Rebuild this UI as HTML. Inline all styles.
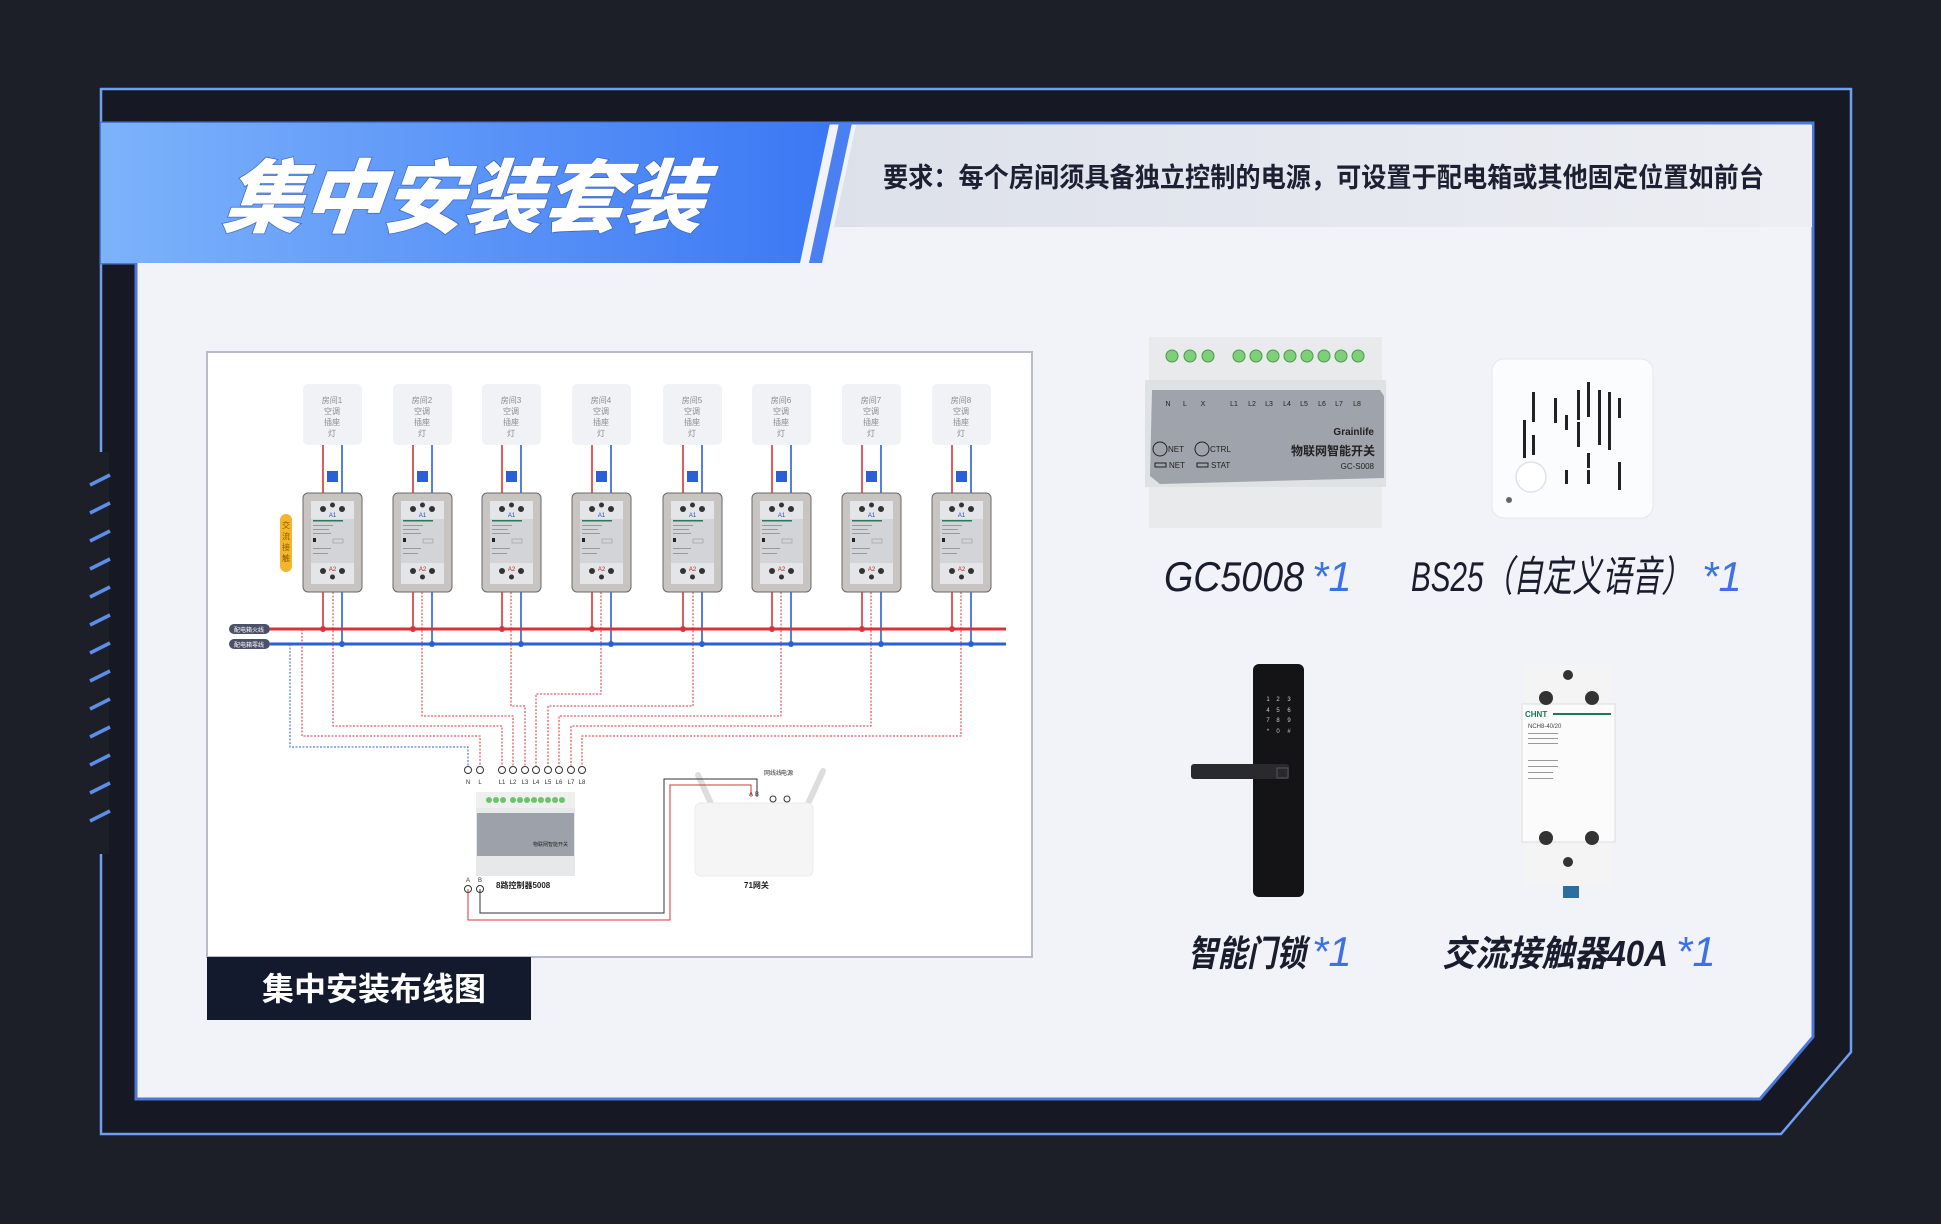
<!DOCTYPE html>
<html><head><meta charset="utf-8"><style>
html,body{margin:0;padding:0;background:#1c1e28;}
svg{display:block}
.cj{font-family:"Liberation Sans","Noto Sans CJK SC",sans-serif;}
</style></head><body>
<svg width="1941" height="1224" viewBox="0 0 1941 1224" xmlns="http://www.w3.org/2000/svg" class="cj">
<defs>
<linearGradient id="hb" x1="0" x2="1" y1="0" y2="0"><stop offset="0" stop-color="#7db3fb"/><stop offset="1" stop-color="#3b78f4"/></linearGradient>
<linearGradient id="gb" x1="0" x2="1" y1="0" y2="0"><stop offset="0" stop-color="#dde1ea"/><stop offset="1" stop-color="#eceef3"/></linearGradient>
<g id="ct">
<rect x="0" y="0" width="59" height="99" rx="5" fill="#c8c4c1" stroke="#6a6a6a" stroke-width="1"/>
<rect x="8" y="8" width="43" height="83" fill="#e4e5e8"/>
<rect x="8" y="26" width="43" height="44" fill="#d2d4d8"/>
<circle cx="20" cy="16" r="3" fill="#333"/><circle cx="39" cy="16" r="3" fill="#333"/><circle cx="29.5" cy="12" r="2.5" fill="#333"/>
<circle cx="20" cy="78" r="3" fill="#333"/><circle cx="39" cy="78" r="3" fill="#333"/><circle cx="29.5" cy="84" r="2.5" fill="#333"/>
<rect x="10" y="27" width="30" height="1.5" fill="#2a7a5a"/>
<rect x="10" y="32" width="20" height="1" fill="#999"/><rect x="10" y="36" width="16" height="1" fill="#999"/><rect x="10" y="40" width="18" height="1" fill="#999"/>
<rect x="10" y="45" width="3" height="4" fill="#222"/><rect x="30" y="46" width="10" height="4" fill="none" stroke="#999" stroke-width="0.6"/>
<rect x="10" y="55" width="18" height="1" fill="#999"/><rect x="10" y="60" width="15" height="1" fill="#999"/>
<text x="29.5" y="24" font-size="6" fill="#2050c0" text-anchor="middle">A1</text>
<text x="29.5" y="78" font-size="6" fill="#c02020" text-anchor="middle">A2</text>
</g>
<g id="rb">
<rect x="0" y="0" width="59" height="61" rx="5" fill="#f1f2f6"/>
</g>
</defs>

<polygon points="101,89 1851,89 1851,1052 1781,1134 101,1134" fill="#161824" stroke="#6fa0ef" stroke-width="2.5"/>
<rect x="95" y="452" width="14" height="402" fill="#1c1e28"/>
<g stroke="#5b8fe8" stroke-width="3.5">
<line x1="90" y1="485" x2="110" y2="475"/><line x1="90" y1="513" x2="110" y2="503"/><line x1="90" y1="541" x2="110" y2="531"/><line x1="90" y1="569" x2="110" y2="559"/><line x1="90" y1="597" x2="110" y2="587"/><line x1="90" y1="625" x2="110" y2="615"/><line x1="90" y1="653" x2="110" y2="643"/><line x1="90" y1="681" x2="110" y2="671"/><line x1="90" y1="709" x2="110" y2="699"/><line x1="90" y1="737" x2="110" y2="727"/><line x1="90" y1="765" x2="110" y2="755"/><line x1="90" y1="793" x2="110" y2="783"/><line x1="90" y1="821" x2="110" y2="811"/>
</g>
<polygon points="101,123 1813,123 1813,1037 1760,1099 136,1099 136,263 101,263" fill="#f1f3f8" stroke="#4a78d8" stroke-width="3"/>
<polygon points="856,125 1812,125 1812,227 834,227" fill="url(#gb)"/>
<polygon points="101,123 830,123 800,263 101,263" fill="url(#hb)"/>
<polygon points="839,123 852,123 822,263 809,263" fill="#4a80f2"/>
<text x="223" y="226" font-size="80" font-weight="900" fill="#fff" font-style="italic" textLength="480" lengthAdjust="spacingAndGlyphs" stroke="#3a63c4" stroke-width="1.5" paint-order="stroke" transform="skewX(-6) translate(22,0)">集中安装套装</text>
<text x="883" y="187" font-size="27" font-weight="700" fill="#1d2033" textLength="881" lengthAdjust="spacingAndGlyphs">要求：每个房间须具备独立控制的电源，可设置于配电箱或其他固定位置如前台</text>

<rect x="207" y="352" width="825" height="605" fill="#fff" stroke="#b8bcc6" stroke-width="2"/>
<rect x="207" y="957" width="324" height="63" fill="#141a2e"/>
<text x="262" y="1000" font-size="32" font-weight="700" fill="#fff">集中安装布线图</text>

<g font-size="8" fill="#8a8a90" text-anchor="middle">
<use href="#rb" x="303" y="384"/><use href="#rb" x="393" y="384"/><use href="#rb" x="482" y="384"/><use href="#rb" x="572" y="384"/><use href="#rb" x="663" y="384"/><use href="#rb" x="752" y="384"/><use href="#rb" x="842" y="384"/><use href="#rb" x="932" y="384"/>
<text x="332" y="403">房间1</text><text x="332" y="414">空调</text><text x="332" y="425">插座</text><text x="332" y="436">灯</text>
<text x="422" y="403">房间2</text><text x="422" y="414">空调</text><text x="422" y="425">插座</text><text x="422" y="436">灯</text>
<text x="511" y="403">房间3</text><text x="511" y="414">空调</text><text x="511" y="425">插座</text><text x="511" y="436">灯</text>
<text x="601" y="403">房间4</text><text x="601" y="414">空调</text><text x="601" y="425">插座</text><text x="601" y="436">灯</text>
<text x="692" y="403">房间5</text><text x="692" y="414">空调</text><text x="692" y="425">插座</text><text x="692" y="436">灯</text>
<text x="781" y="403">房间6</text><text x="781" y="414">空调</text><text x="781" y="425">插座</text><text x="781" y="436">灯</text>
<text x="871" y="403">房间7</text><text x="871" y="414">空调</text><text x="871" y="425">插座</text><text x="871" y="436">灯</text>
<text x="961" y="403">房间8</text><text x="961" y="414">空调</text><text x="961" y="425">插座</text><text x="961" y="436">灯</text>
</g>

<g stroke="#d8333a" stroke-width="1.6">
<line x1="323" y1="445" x2="323" y2="629"/><line x1="413" y1="445" x2="413" y2="629"/><line x1="502" y1="445" x2="502" y2="629"/><line x1="592" y1="445" x2="592" y2="629"/><line x1="683" y1="445" x2="683" y2="629"/><line x1="772" y1="445" x2="772" y2="629"/><line x1="862" y1="445" x2="862" y2="629"/><line x1="952" y1="445" x2="952" y2="629"/>
</g>
<g stroke="#2a5fd8" stroke-width="1.6">
<line x1="342" y1="445" x2="342" y2="644"/><line x1="432" y1="445" x2="432" y2="644"/><line x1="521" y1="445" x2="521" y2="644"/><line x1="611" y1="445" x2="611" y2="644"/><line x1="702" y1="445" x2="702" y2="644"/><line x1="791" y1="445" x2="791" y2="644"/><line x1="881" y1="445" x2="881" y2="644"/><line x1="971" y1="445" x2="971" y2="644"/>
</g>
<g fill="#2a5fd8">
<rect x="327" y="471" width="11" height="11"/><rect x="417" y="471" width="11" height="11"/><rect x="506" y="471" width="11" height="11"/><rect x="596" y="471" width="11" height="11"/><rect x="687" y="471" width="11" height="11"/><rect x="776" y="471" width="11" height="11"/><rect x="866" y="471" width="11" height="11"/><rect x="956" y="471" width="11" height="11"/>
</g>
<use href="#ct" x="303" y="493"/><use href="#ct" x="393" y="493"/><use href="#ct" x="482" y="493"/><use href="#ct" x="572" y="493"/><use href="#ct" x="663" y="493"/><use href="#ct" x="752" y="493"/><use href="#ct" x="842" y="493"/><use href="#ct" x="932" y="493"/>
<rect x="280" y="514" width="12" height="58" rx="6" fill="#f4b52a"/>
<text x="286" y="528" font-size="8" fill="#8a5a00" text-anchor="middle">交</text>
<text x="286" y="539" font-size="8" fill="#8a5a00" text-anchor="middle">流</text>
<text x="286" y="550" font-size="8" fill="#8a5a00" text-anchor="middle">接</text>
<text x="286" y="561" font-size="8" fill="#8a5a00" text-anchor="middle">触</text>

<line x1="270" y1="629" x2="1006" y2="629" stroke="#d8333a" stroke-width="3"/>
<line x1="270" y1="644" x2="1006" y2="644" stroke="#2a5fd8" stroke-width="3"/>
<rect x="229" y="624" width="41" height="10" rx="5" fill="#4c5068"/>
<rect x="229" y="639" width="41" height="10" rx="5" fill="#4c5068"/>
<text x="249" y="632" font-size="6" fill="#fff" text-anchor="middle">配电箱火线</text>
<text x="249" y="647" font-size="6" fill="#fff" text-anchor="middle">配电箱零线</text>
<g fill="#d8333a"><circle cx="323" cy="629" r="3"/><circle cx="413" cy="629" r="3"/><circle cx="502" cy="629" r="3"/><circle cx="592" cy="629" r="3"/><circle cx="683" cy="629" r="3"/><circle cx="772" cy="629" r="3"/><circle cx="862" cy="629" r="3"/><circle cx="952" cy="629" r="3"/></g>
<g fill="#2a5fd8"><circle cx="342" cy="644" r="3"/><circle cx="432" cy="644" r="3"/><circle cx="521" cy="644" r="3"/><circle cx="611" cy="644" r="3"/><circle cx="702" cy="644" r="3"/><circle cx="791" cy="644" r="3"/><circle cx="881" cy="644" r="3"/><circle cx="971" cy="644" r="3"/></g>

<g fill="none" stroke="#d8333a" stroke-width="1" stroke-dasharray="2,1.5">
<polyline points="333,592 333,726 502,726 502,766"/>
<polyline points="422,592 422,716 513,716 513,766"/>
<polyline points="511,592 511,706 525,706 525,766"/>
<polyline points="601,592 601,694 536,694 536,766"/>
<polyline points="693,592 693,706 548,706 548,766"/>
<polyline points="781,592 781,716 559,716 559,766"/>
<polyline points="871,592 871,726 571,726 571,766"/>
<polyline points="961,592 961,736 582,736 582,766"/>
<polyline points="302,629 302,736 480,736 480,766"/>
</g>
<polyline points="290,644 290,747 468,747 468,766" fill="none" stroke="#2a5fd8" stroke-width="1" stroke-dasharray="2,1.5"/>
<g fill="#fff" stroke="#333" stroke-width="1">
<circle cx="468" cy="770" r="3.5"/><circle cx="480" cy="770" r="3.5"/><circle cx="502" cy="770" r="3.5"/><circle cx="513" cy="770" r="3.5"/><circle cx="525" cy="770" r="3.5"/><circle cx="536" cy="770" r="3.5"/><circle cx="548" cy="770" r="3.5"/><circle cx="559" cy="770" r="3.5"/><circle cx="571" cy="770" r="3.5"/><circle cx="582" cy="770" r="3.5"/>
<circle cx="468" cy="889" r="3.5"/><circle cx="480" cy="889" r="3.5"/>
<circle cx="773" cy="799" r="3"/><circle cx="787" cy="799" r="3"/>
</g>
<g font-size="6" fill="#333" text-anchor="middle">
<text x="468" y="784">N</text><text x="480" y="784">L</text><text x="502" y="784">L1</text><text x="513" y="784">L2</text><text x="525" y="784">L3</text><text x="536" y="784">L4</text><text x="548" y="784">L5</text><text x="559" y="784">L6</text><text x="571" y="784">L7</text><text x="582" y="784">L8</text>
<text x="468" y="882">A</text><text x="480" y="882">B</text>
<text x="751" y="796">A</text><text x="757" y="796">B</text>
<text x="773" y="775">网线线</text><text x="787" y="775">电源</text>
</g>
<text x="496" y="888" font-size="8" font-weight="700" fill="#222">8路控制器5008</text>
<text x="744" y="888" font-size="8" font-weight="700" fill="#222">71网关</text>
<rect x="476" y="792" width="99" height="84" fill="#e6e8ea"/>
<rect x="476" y="792" width="99" height="16" fill="#eef0ee"/>
<g fill="#6cc46a"><circle cx="489" cy="800" r="3"/><circle cx="496" cy="800" r="3"/><circle cx="503" cy="800" r="3"/><circle cx="513" cy="800" r="3"/><circle cx="520" cy="800" r="3"/><circle cx="527" cy="800" r="3"/><circle cx="534" cy="800" r="3"/><circle cx="541" cy="800" r="3"/><circle cx="548" cy="800" r="3"/><circle cx="555" cy="800" r="3"/><circle cx="562" cy="800" r="3"/></g>
<rect x="477" y="813" width="97" height="43" fill="#9da2aa"/>
<text x="568" y="846" font-size="5" fill="#222" text-anchor="end">物联网智能开关</text>
<line x1="698" y1="775" x2="713" y2="808" stroke="#ddd" stroke-width="6" stroke-linecap="round"/>
<line x1="823" y1="771" x2="806" y2="808" stroke="#ddd" stroke-width="6" stroke-linecap="round"/>
<rect x="695" y="803" width="118" height="73" rx="6" fill="#f5f5f6" stroke="#eaeaea"/>
<polyline points="468,889 468,920 670,920 670,785 751,785 751,797" fill="none" stroke="#d8333a" stroke-width="1"/>
<polyline points="480,889 480,913 664,913 664,779 757,779 757,797" fill="none" stroke="#333" stroke-width="1"/>

<rect x="1149" y="337" width="233" height="191" fill="#e8eaeb"/>
<rect x="1145" y="380" width="241" height="107" fill="#dfe2e4"/>
<path d="M1152,390 L1380,390 L1384,396 L1384,478 L1160,484 L1150,476 Z" fill="#9fa3ab"/>
<g fill="#7fcf7a" stroke="#4a9a4a" stroke-width="1">
<circle cx="1172" cy="356" r="6"/><circle cx="1190" cy="356" r="6"/><circle cx="1208" cy="356" r="6"/>
<circle cx="1239" cy="356" r="6"/><circle cx="1256" cy="356" r="6"/><circle cx="1273" cy="356" r="6"/><circle cx="1290" cy="356" r="6"/><circle cx="1307" cy="356" r="6"/><circle cx="1324" cy="356" r="6"/><circle cx="1341" cy="356" r="6"/><circle cx="1358" cy="356" r="6"/>
</g>
<g font-size="7" fill="#222" text-anchor="middle">
<text x="1168" y="406">N</text><text x="1185" y="406">L</text><text x="1203" y="406">X</text><text x="1234" y="406">L1</text><text x="1252" y="406">L2</text><text x="1269" y="406">L3</text><text x="1287" y="406">L4</text><text x="1304" y="406">L5</text><text x="1322" y="406">L6</text><text x="1339" y="406">L7</text><text x="1357" y="406">L8</text>
</g>
<circle cx="1160" cy="449" r="7" fill="none" stroke="#222"/><text x="1168" y="452" font-size="8" fill="#222">NET</text>
<circle cx="1202" cy="449" r="7" fill="none" stroke="#222"/><text x="1210" y="452" font-size="8" fill="#222">CTRL</text>
<rect x="1155" y="463" width="11" height="4" fill="none" stroke="#222"/><text x="1169" y="468" font-size="8" fill="#222">NET</text>
<rect x="1197" y="463" width="11" height="4" fill="none" stroke="#222"/><text x="1211" y="468" font-size="8" fill="#222">STAT</text>
<text x="1374" y="435" font-size="10" font-weight="700" fill="#222" text-anchor="end">Grainlife</text>
<text x="1375" y="455" font-size="12" font-weight="700" fill="#222" text-anchor="end">物联网智能开关</text>
<text x="1374" y="469" font-size="8" fill="#222" text-anchor="end">GC-S008</text>
<rect x="1492" y="359" width="161" height="159" rx="12" fill="#fbfcfe" stroke="#e4e7ee"/>
<g fill="#222">
<rect x="1532" y="392" width="3" height="30"/><rect x="1523" y="420" width="3" height="20"/><rect x="1532" y="435" width="3" height="20"/><rect x="1523" y="440" width="3" height="18"/>
<rect x="1554" y="398" width="3" height="25"/><rect x="1565" y="415" width="3" height="15"/><rect x="1577" y="390" width="3" height="30"/><rect x="1577" y="422" width="3" height="25"/>
<rect x="1587" y="382" width="3" height="35"/><rect x="1598" y="390" width="3" height="55"/><rect x="1608" y="392" width="3" height="28"/><rect x="1608" y="420" width="3" height="30"/>
<rect x="1618" y="398" width="3" height="20"/><rect x="1587" y="453" width="3" height="15"/><rect x="1565" y="470" width="3" height="14"/><rect x="1587" y="470" width="3" height="14"/><rect x="1618" y="462" width="3" height="28"/>
</g>
<circle cx="1531" cy="477" r="15" fill="#fff" stroke="#e0e2e8" stroke-width="1.5"/>
<circle cx="1509" cy="500" r="3" fill="#666"/>
<rect x="1253" y="664" width="51" height="233" rx="6" fill="#141416"/>
<rect x="1191" y="764" width="98" height="15" rx="3" fill="#2a2a2e"/>
<rect x="1277" y="768" width="11" height="10" fill="none" stroke="#555"/>
<g fill="#ccc" font-size="6" text-anchor="middle"><text x="1268" y="701">1</text><text x="1278" y="701">2</text><text x="1289" y="701">3</text><text x="1268" y="712">4</text><text x="1278" y="712">5</text><text x="1289" y="712">6</text><text x="1268" y="722">7</text><text x="1278" y="722">8</text><text x="1289" y="722">9</text><text x="1268" y="733">*</text><text x="1278" y="733">0</text><text x="1289" y="733">#</text></g>
<rect x="1525" y="664" width="88" height="222" fill="#f4f4f5"/>
<rect x="1522" y="704" width="93" height="138" fill="#fbfbfb" stroke="#ddd"/>
<rect x="1563" y="886" width="16" height="12" fill="#2a6fa0"/>
<g fill="#333"><circle cx="1568" cy="675" r="5"/><circle cx="1546" cy="698" r="7"/><circle cx="1592" cy="698" r="7"/><circle cx="1546" cy="838" r="7"/><circle cx="1592" cy="838" r="7"/><circle cx="1568" cy="862" r="5"/></g>
<text x="1525" y="717" font-size="8" font-weight="700" fill="#1b7a55">CHNT</text>
<rect x="1553" y="713" width="58" height="2" fill="#1b7a55"/>
<text x="1528" y="728" font-size="6" fill="#444">NCH8-40/20</text>
<g fill="#999"><rect x="1528" y="733" width="30" height="1"/><rect x="1528" y="738" width="30" height="1"/><rect x="1528" y="743" width="30" height="1"/><rect x="1528" y="760" width="30" height="1"/><rect x="1528" y="766" width="30" height="1"/><rect x="1528" y="772" width="25" height="1"/><rect x="1528" y="778" width="25" height="1"/></g>

<g font-size="42" font-style="italic" font-weight="400" fill="#1a1d2e">
<text x="1164" y="591" textLength="140" lengthAdjust="spacingAndGlyphs">GC5008</text>
<text x="1411" y="591" textLength="280" lengthAdjust="spacingAndGlyphs">BS25（自定义语音）</text>
<text x="1188" y="966" font-weight="700" font-size="36" textLength="118" lengthAdjust="spacingAndGlyphs">智能门锁</text>
<text x="1442" y="966" font-weight="700" font-size="36" textLength="226" lengthAdjust="spacingAndGlyphs">交流接触器40A</text>
</g>
<g font-size="42" font-style="italic" fill="#3d72e6">
<text x="1312" y="591">*1</text><text x="1702" y="591">*1</text><text x="1312" y="966">*1</text><text x="1676" y="966">*1</text>
</g>
</svg>
</body></html>
